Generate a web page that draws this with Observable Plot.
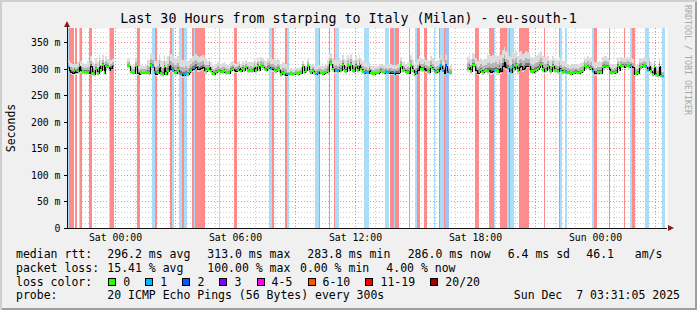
<!DOCTYPE html>
<html>
<head>
<meta charset="utf-8">
<script src="https://cdn.jsdelivr.net/npm/d3@7"></script>
<script src="https://cdn.jsdelivr.net/npm/@observablehq/plot@0.6"></script>
<style>
  html, body { margin: 0; padding: 0; background: #f0f0f0; }
  #chart { position: relative; width: 697px; height: 310px; background: #f0f0f0; overflow: hidden;
    font-family: "DejaVu Sans Mono", monospace; color: #000;
    box-shadow: inset 2px 2px 0 #cfcfcf, inset -2px -2px 0 #9e9e9e; }
  #chart svg { position: absolute; left: 0; top: 0; }
  .abs { position: absolute; white-space: pre; line-height: 14px; font-size: 11.5px; }
  .sq { position: absolute; width: 6px; height: 6px; border: 1px solid #000; }
</style>
</head>
<body>
<div id="chart"></div>
<script>
// ---------------- data ----------------
const titleText = "Last 30 Hours from starping to Italy (Milan) - eu-south-1";
const yAxisTitle = "Seconds";
const watermark = "RRDTOOL / TOBI OETIKER";

// graph window (UTC), 5-minute steps
const tStart = Date.UTC(2025, 11, 5, 21, 37, 30);
const tEnd = Date.UTC(2025, 11, 7, 3, 37, 30);
const stepMs = 300000;
const yMax = 377;

// median rtt per 5-minute step (ms), null = no data
const medianRtt = [
  303,298,295,293,296,294,296,306,298,295,294,294,
  294,293,305,292,290,300,292,306,297,307,293,305,
  304,298,302,305,null,null,null,null,null,null,null,null,
  306,305,294,292,293,305,292,291,293,292,292,293,
  293,292,306,304,293,291,293,304,292,290,303,291,
  296,308,300,297,294,293,297,292,290,289,288,291,
  290,294,297,300,302,304,300,299,301,303,298,296,
  299,304,296,291,290,294,297,296,294,295,296,293,
  293,292,298,300,297,296,298,302,296,300,297,303,
  297,296,297,296,303,297,305,298,306,304,300,298,
  301,304,300,299,298,296,299,297,290,292,291,289,
  290,290,291,290,290,292,291,292,293,305,294,297,
  306,296,293,296,292,290,293,294,292,291,293,294,
  296,309,310,300,296,297,296,300,297,307,298,296,
  306,298,308,297,296,305,298,307,300,295,292,294,
  293,298,292,291,291,292,292,294,296,294,293,295,
  292,294,293,292,291,292,293,294,306,297,298,294,
  293,292,306,297,290,292,298,305,300,299,302,297,
  296,294,304,300,296,294,296,300,306,297,292,306,
  294,292,293,null,null,null,null,null,null,null,null,null,
  300,304,296,307,306,298,293,295,298,294,296,297,
  296,298,295,296,296,297,295,302,296,305,312,304,
  302,296,294,304,300,306,297,303,305,300,302,306,
  306,305,296,295,296,298,300,304,308,299,296,297,
  305,297,296,305,298,297,296,302,298,294,295,294,
  293,292,291,293,292,294,292,293,295,297,306,303,
  304,300,302,296,292,292,293,294,293,303,305,304,
  304,300,293,292,293,294,305,298,306,305,304,305,
  306,304,305,303,290,291,292,304,303,305,306,304,
  298,306,296,290,304,289,288,305,287,286,null,null
];

// lost pings (of 20) per step: [step index, lost count]
const lossSteps = [
  [0,1],[1,15],[2,15],[3,15],[5,15],[7,1],[8,15],[13,15],[14,15],
  [25,1],[26,15],[27,15],[42,15],[43,15],[51,1],[52,1],[53,15],
  [62,15],[63,1],[67,1],[68,1],[69,15],[70,1],[71,1],[75,15],[76,1],
  [77,15],[78,15],[79,15],[80,15],[81,15],[82,15],[91,1],[100,15],[101,15],
  [121,1],[122,1],[123,15],[131,15],[132,1],[149,1],[150,1],[151,15],
  [157,15],[160,15],[161,1],[162,1],[178,1],[179,1],[180,1],
  [191,1],[192,1],[194,15],[195,15],[196,1],[197,15],[198,15],
  [205,15],[209,1],[210,15],[211,15],[214,15],[215,15],
  [220,1],[223,15],[224,1],[225,1],[226,15],[227,2],[228,2],
  [245,15],[246,15],[253,15],[254,15],[255,15],[256,1],
  [260,15],[261,15],[262,15],[263,15],[264,1],[265,15],[266,1],[267,1],
  [271,15],[272,15],[273,15],[274,15],[275,15],[276,15],[286,15],
  [295,15],[296,1],[299,1],[315,1],[316,15],[317,15],[325,15],[334,15],
  [338,1],[339,15],[340,15],[347,1],[348,1],[357,1],[358,1]
];

// smoke spread around the median per hour (ms above / below)
const smokeHi = [16,20,14,14,24,28,24,16,14,16,20,10,14,20,20,14,16,20,20,14,22,30,28,26,20,16,20,16,16,16];
const smokeLo = [5,5,4,4,5,6,5,4,4,4,5,4,4,5,5,4,4,5,5,4,5,6,6,5,5,4,5,4,4,5];

// axis ticks
const yMajor = [0, 50, 100, 150, 200, 250, 300, 350];
const yMinor = [10,20,30,40,60,70,80,90,110,120,130,140,160,170,180,190,210,220,230,240,260,270,280,290,310,320,330,340,360,370];

// legend
const medianStats = ["296.2 ms avg", "313.0 ms max", "283.8 ms min", "286.0 ms now", "6.4 ms sd", "46.1   am/s"];
const lossStats = ["15.41 % avg", "100.00 % max", "0.00 % min", "4.00 % now"];
const lossLabels = ["0", "1", "2", "3", "4-5", "6-10", "11-19", "20/20"];
const lossColors = ["#26ff00", "#00b8ff", "#0059ff", "#7e00ff", "#ff00ff", "#ff5500", "#ff0000", "#a10000"];
const probeText = "20 ICMP Echo Pings (56 Bytes) every 300s";
const stampText = "Sun Dec  7 03:31:05 2025";

// ---------------- build ----------------
const lossMap = new Map(lossSteps);
const steps = medianRtt.map((v, i) => {
  const h = Math.floor(i / 12);
  return {
    t: new Date(tStart + i * stepMs),
    t2: new Date(tStart + (i + 1) * stepMs),
    m: v == null ? NaN : v,
    loss: lossMap.get(i) ?? 0,
    hi: smokeHi[h], lo: smokeLo[h]
  };
});
const valid = steps.filter(d => !isNaN(d.m));
const bands = steps.filter(d => d.loss > 0);
function bandColor(l) { return l >= 6 ? "#ff8c8c" : l >= 2 ? "#9cc4fc" : "#a8def7"; }
function dotColor(l) { return l === 0 ? lossColors[0] : l === 1 ? lossColors[1] : lossColors[2]; }

const x0 = new Date(tStart), x1 = new Date(tEnd);
const xMinor = d3.utcHour.range(x0, x1).filter(d => d.getUTCHours() % 3 !== 0);
const xMajor = d3.utcHour.every(3).range(x0, x1);
const xLabels = d3.utcHour.every(6).range(x0, x1);
const fmt = d3.utcFormat("%a %H:%M");

const plot = Plot.plot({
  width: 697, height: 245,
  marginLeft: 67, marginRight: 30, marginTop: 28, marginBottom: 17,
  style: { background: "transparent", fontFamily: "DejaVu Sans Mono", fontSize: "9.8px", color: "#000", overflow: "visible" },
  x: { type: "utc", domain: [x0, x1], round: true },
  y: { domain: [0, yMax], round: true },
  color: { type: "identity" },
  marks: [
    Plot.frame({ fill: "white", stroke: null }),
    Plot.ruleY(yMinor, { stroke: "#cdcdcd", strokeDasharray: "1,2" }),
    Plot.ruleX(xMinor, { stroke: "#cdcdcd", strokeDasharray: "1,2" }),
    Plot.ruleY(yMajor.filter(v => v > 0), { stroke: "#ff8080", strokeDasharray: "1,2" }),
    Plot.ruleX(xMajor, { stroke: "#ff8080", strokeDasharray: "1,2" }),
    Plot.rect(bands, { x1: "t", x2: "t2", y1: 0, y2: yMax, fill: d => bandColor(d.loss) }),
    Plot.rect(valid, { x1: "t", x2: "t2", y1: d => d.m - d.lo, y2: d => d.m + d.hi, fill: "#dcdcdc" }),
    Plot.rect(valid, { x1: "t", x2: "t2", y1: d => d.m - d.lo * 0.6, y2: d => d.m + d.hi * 0.5, fill: "#b4b4b4" }),
    Plot.rect(valid, { x1: "t", x2: "t2", y1: d => d.m - 1.5, y2: d => d.m + d.hi * 0.2, fill: "#747474" }),
    Plot.line(steps, { x: "t", y: "m", curve: "step-after", stroke: "#000", strokeWidth: 1.2 }),
    Plot.rect(valid.filter(d => d.loss <= 2), { x1: "t", x2: "t2", y1: d => d.m - 2.2, y2: d => d.m + 2.2, fill: d => dotColor(d.loss) }),
    Plot.ruleY([0], { stroke: "#111" }),
    Plot.ruleX([x0], { stroke: "#111" }),
    Plot.axisY({ ticks: yMajor, tickFormat: d => d === 0 ? "0" : d + " m", tickSize: 3, tickPadding: 4, label: null }),
    Plot.axisX({ ticks: xLabels, tickFormat: fmt, tickSize: 0, tickPadding: 6, label: null })
  ]
});

const chart = document.getElementById("chart");
chart.appendChild(plot);

function addText(txt, x, top, size, extra) {
  const el = document.createElement("div");
  el.className = "abs";
  el.textContent = txt;
  el.style.left = x + "px";
  el.style.top = top + "px";
  if (size) el.style.fontSize = size + "px";
  if (extra) Object.assign(el.style, extra);
  chart.appendChild(el);
  return el;
}

// title
addText(titleText, 0, 11.4, 13.3, { width: "697px", textAlign: "center", lineHeight: "16px" });
// y axis title
addText(yAxisTitle, 11, 128, 11.5, { transform: "translate(-50%,-50%) rotate(-90deg)" });
// watermark
addText(watermark, 688, 60, 8.3, { transform: "translate(-50%,-50%) rotate(90deg)", color: "#a8a8a8" });

// arrows
const up = document.createElement("div");
Object.assign(up.style, { position: "absolute", left: "63.5px", top: "21px", width: 0, height: 0,
  borderLeft: "3.5px solid transparent", borderRight: "3.5px solid transparent", borderBottom: "6px solid #8b1a1a" });
chart.appendChild(up);
const upLine = document.createElement("div");
Object.assign(upLine.style, { position: "absolute", left: "67px", top: "26px", width: "1px", height: "3px", background: "#111" });
chart.appendChild(upLine);
const right = document.createElement("div");
Object.assign(right.style, { position: "absolute", left: "668px", top: "224.5px", width: 0, height: 0,
  borderTop: "3.5px solid transparent", borderBottom: "3.5px solid transparent", borderLeft: "6px solid #8b1a1a" });
chart.appendChild(right);

// legend
const rowTop = [247.3, 260.7, 274.5, 288.3];
addText("median rtt:", 16, rowTop[0]);
const medX = [107.3, 207.3, 307.3, 407.7, 507.7, 586.3];
medianStats.forEach((s, k) => addText(s, medX[k], rowTop[0]));
addText("packet loss:", 16, rowTop[1]);
const lossX = [107.3, 207.3, 300, 386.3];
lossStats.forEach((s, k) => addText(s, lossX[k], rowTop[1]));
addText("loss color:", 16, rowTop[2]);
let cx = 108.3;
lossLabels.forEach((lab, k) => {
  const sq = document.createElement("div");
  sq.className = "sq";
  sq.style.left = cx + "px";
  sq.style.top = "277.7px";
  sq.style.background = lossColors[k];
  chart.appendChild(sq);
  addText(lab, cx + 15, rowTop[2]);
  cx = cx + 15 + lab.length * 6.96 + 15.1;
});
addText("probe:", 16, rowTop[3]);
addText(probeText, 107.3, rowTop[3]);
addText(stampText, 0, rowTop[3], null, { left: "auto", right: "17px" });
</script>
</body>
</html>
